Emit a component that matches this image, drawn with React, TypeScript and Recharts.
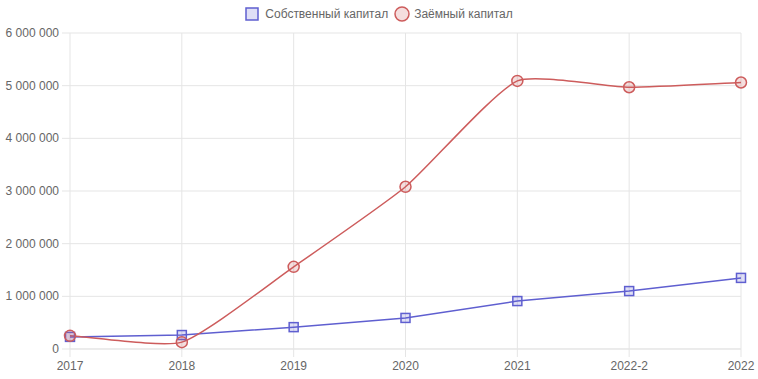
import React from 'react';
import { LineChart, Line, XAxis, YAxis, CartesianGrid } from 'recharts';

const years = ['2017', '2018', '2019', '2020', '2021', '2022-2', '2022'];
const ownCapital = [230000, 265000, 415000, 590000, 910000, 1100000, 1350000];
const borrowedCapital = [250000, 130000, 1560000, 3080000, 5090000, 4970000, 5060000];
const yTicks = [0, 1000000, 2000000, 3000000, 4000000, 5000000, 6000000];

const BLUE = '#5f5fd0';
const RED = '#cd5c5c';
const GRID = '#e5e5e5';
const TEXT = '#666';
const FONT = 'Liberation Sans, Arial, sans-serif';

const data = years.map((year, i) => ({
  year,
  own: ownCapital[i],
  borrowed: borrowedCapital[i],
}));

const fmt = (v: number) => String(v).replace(/\B(?=(\d{3})+(?!\d))/g, ' ');

// same spline as Chart.js (tension based bezier through the points)
const splineCurve = (tension: number) => (context: any) => {
  let xs: number[] = [];
  let ys: number[] = [];
  return {
    areaStart() {},
    areaEnd() {},
    lineStart() {
      xs = [];
      ys = [];
    },
    point(x: number, y: number) {
      xs.push(+x);
      ys.push(+y);
    },
    lineEnd() {
      const n = xs.length;
      if (!n) return;
      const cp: any[] = [];
      for (let i = 0; i < n; i++) {
        const p = i > 0 ? i - 1 : i;
        const q = i < n - 1 ? i + 1 : i;
        const d01 = Math.hypot(xs[i] - xs[p], ys[i] - ys[p]);
        const d12 = Math.hypot(xs[q] - xs[i], ys[q] - ys[i]);
        const s01 = d01 / (d01 + d12) || 0;
        const s12 = d12 / (d01 + d12) || 0;
        const fa = tension * s01;
        const fb = tension * s12;
        cp.push({
          px: xs[i] - fa * (xs[q] - xs[p]),
          py: ys[i] - fa * (ys[q] - ys[p]),
          nx: xs[i] + fb * (xs[q] - xs[p]),
          ny: ys[i] + fb * (ys[q] - ys[p]),
        });
      }
      context.moveTo(xs[0], ys[0]);
      for (let i = 1; i < n; i++) {
        context.bezierCurveTo(cp[i - 1].nx, cp[i - 1].ny, cp[i].px, cp[i].py, xs[i], ys[i]);
      }
    },
  };
};

const XTick = (props: any) => {
  const { x, y, payload } = props;
  return (
    <text x={x} y={y + 13} textAnchor="middle" fill={TEXT} fontSize={12} fontFamily={FONT}>
      {payload.value}
    </text>
  );
};

const YTick = (props: any) => {
  const { x, y, payload } = props;
  return (
    <text x={x} y={y + 4} textAnchor="end" fill={TEXT} fontSize={12} fontFamily={FONT}>
      {fmt(payload.value)}
    </text>
  );
};

const SquareDot = (props: any) => {
  const { cx, cy } = props;
  if (cx == null || cy == null) return null;
  return (
    <rect x={cx - 4.5} y={cy - 4.5} width={9} height={9}
      fill="rgba(95,95,208,0.2)" stroke={BLUE} strokeWidth={1.5} />
  );
};

const CircleDot = (props: any) => {
  const { cx, cy } = props;
  if (cx == null || cy == null) return null;
  return <circle cx={cx} cy={cy} r={5.5} fill="rgba(205,92,92,0.2)" stroke={RED} strokeWidth={1.5} />;
};

const LegendBar = () => (
  <div style={{
    position: 'absolute', top: 6, left: 0, width: 758, display: 'flex', zIndex: 1,
    justifyContent: 'center', alignItems: 'center', fontFamily: FONT, fontSize: 12, color: TEXT,
  }}>
    <svg width={14} height={14} style={{ marginRight: 6 }}>
      <rect x={1} y={1} width={12} height={12} fill="rgba(95,95,208,0.2)" stroke={BLUE} strokeWidth={1.5} />
    </svg>
    <span style={{ marginRight: 6 }}>Собственный капитал</span>
    <svg width={16} height={16} style={{ marginRight: 4 }}>
      <circle cx={8} cy={8} r={7} fill="rgba(205,92,92,0.2)" stroke={RED} strokeWidth={1.5} />
    </svg>
    <span>Заёмный капитал</span>
  </div>
);

export default function App() {
  return (
    <div style={{ position: 'absolute', left: 0, top: 0, width: 758, height: 379 }}>
      <LegendBar />
      <LineChart width={758} height={379} data={data} style={{ overflow: 'visible' }}
        margin={{ top: 33, right: 17, bottom: 0, left: 0 }}>
        <CartesianGrid stroke={GRID} strokeWidth={1} />
        <XAxis dataKey="year" height={30} stroke={GRID} tick={<XTick />}
          tickLine={{ stroke: GRID }} tickSize={8} tickMargin={0} />
        <YAxis width={70} domain={[0, 6000000]} ticks={yTicks} axisLine={false}
          tick={<YTick />} tickLine={{ stroke: GRID }} tickSize={8} tickMargin={3} />
        <Line dataKey="own" type="linear" stroke={BLUE} strokeWidth={1.5}
          dot={<SquareDot />} activeDot={false} isAnimationActive={false} />
        <Line dataKey="borrowed" type={splineCurve(0.18) as any} stroke={RED} strokeWidth={1.5}
          dot={<CircleDot />} activeDot={false} isAnimationActive={false} />
      </LineChart>
    </div>
  );
}
